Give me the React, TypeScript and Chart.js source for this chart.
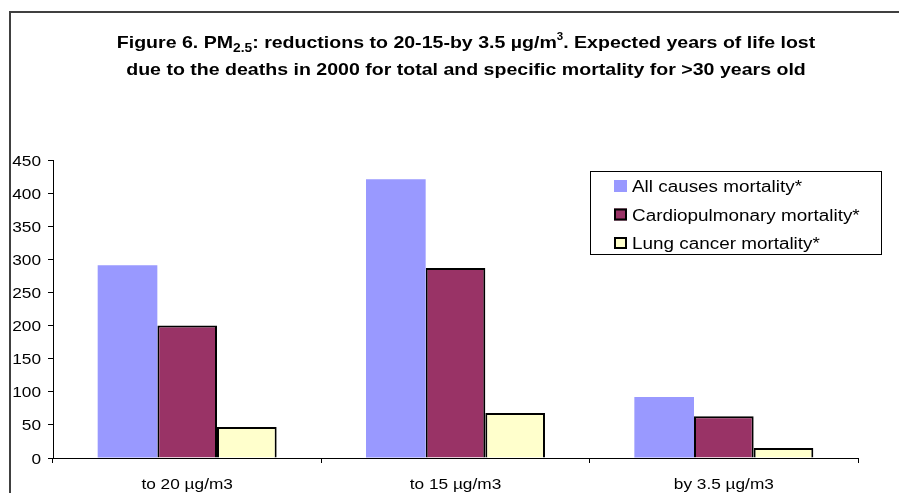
import React, { useEffect, useRef } from "react";
import { Chart, registerables } from "chart.js";

Chart.register(...registerables);

const categories = ["to 20 µg/m3", "to 15 µg/m3", "by 3.5 µg/m3"];
const allCausesLabel = "All causes mortality*";
const cardioLabel = "Cardiopulmonary mortality*";
const lungLabel = "Lung cancer mortality*";
const allCauses = [291, 421, 92];
const cardio = [200, 287, 63];
const lung = [47, 68, 15];
const yMax = 450;
const yStep = 50;

const FONT = "'Liberation Sans', Arial, sans-serif";

function drawStretched(
  ctx: CanvasRenderingContext2D,
  text: string,
  x: number,
  y: number,
  align: "left" | "center" | "right",
  font: string,
  sx: number,
  color = "#000"
) {
  ctx.save();
  ctx.font = font;
  const w = ctx.measureText(text).width * sx;
  let left = x;
  if (align === "center") left = x - w / 2;
  if (align === "right") left = x - w;
  ctx.translate(left, y);
  ctx.scale(sx, 1);
  ctx.textAlign = "left";
  ctx.textBaseline = "alphabetic";
  ctx.fillStyle = color;
  ctx.fillText(text, 0, 0);
  ctx.restore();
  return w;
}

type Run = { t: string; size: number; dy: number };

function drawRuns(ctx: CanvasRenderingContext2D, runs: Run[], cx: number, baseY: number, sx: number) {
  ctx.save();
  let total = 0;
  const widths = runs.map((r) => {
    ctx.font = `bold ${r.size}px ${FONT}`;
    const w = ctx.measureText(r.t).width * sx;
    total += w;
    return w;
  });
  let x = cx - total / 2;
  runs.forEach((r, i) => {
    drawStretched(ctx, r.t, x, baseY + r.dy, "left", `bold ${r.size}px ${FONT}`, sx);
    x += widths[i];
  });
  ctx.restore();
}

const customPlugin = {
  id: "custom",
  beforeDraw(chart: any) {
    const ctx = chart.ctx;
    ctx.save();
    ctx.fillStyle = "#fff";
    ctx.fillRect(0, 0, chart.width, chart.height);
    ctx.restore();
  },
  afterDraw(chart: any) {
    const ctx: CanvasRenderingContext2D = chart.ctx;
    // frame
    ctx.save();
    ctx.strokeStyle = "#404040";
    ctx.lineWidth = 2;
    ctx.strokeRect(10, 12, 3000, 3000);
    ctx.restore();

    // title
    const tsx = 1.15;
    drawRuns(
      ctx,
      [
        { t: "Figure 6. PM", size: 17, dy: 0 },
        { t: "2.5", size: 12, dy: 4 },
        { t: ": reductions to 20-15-by 3.5 µg/m", size: 17, dy: 0 },
        { t: "3", size: 10, dy: -8 },
        { t: ". Expected years of life lost", size: 17, dy: 0 },
      ],
      466,
      48,
      tsx
    );
    drawRuns(
      ctx,
      [{ t: "due to the deaths in 2000 for total and specific mortality for >30 years old", size: 17, dy: 0 }],
      466,
      75,
      tsx
    );

    // y tick labels
    const ys = chart.scales.y;
    const tickFont = `15px ${FONT}`;
    ys.ticks.forEach((t: any) => {
      const py = ys.getPixelForValue(t.value);
      drawStretched(ctx, String(t.value), 41, py + 5.5, "right", tickFont, 1.15);
    });
    // x tick labels
    const xs = chart.scales.x;
    categories.forEach((c, i) => {
      const px = xs.getPixelForValue(i);
      drawStretched(ctx, c, px, 489, "center", tickFont, 1.15);
    });

    // legend
    ctx.save();
    ctx.fillStyle = "#fff";
    ctx.fillRect(590, 171, 291, 83);
    ctx.strokeStyle = "#000";
    ctx.lineWidth = 1;
    ctx.strokeRect(590.5, 171.5, 291, 83);
    const items = chart.data.datasets.map((d: any) => d);
    const rowBase = [192, 220.5, 249];
    items.forEach((d: any, i: number) => {
      const top = rowBase[i] - 12;
      ctx.fillStyle = d.backgroundColor;
      ctx.fillRect(614, top, 13, 12);
      if (d.borderWidth > 0) {
        ctx.strokeStyle = "#000";
        ctx.lineWidth = 2;
        ctx.strokeRect(615, top + 1, 11, 10);
      }
      drawStretched(ctx, d.label, 632, rowBase[i], "left", `16px ${FONT}`, 1.18);
    });
    ctx.restore();
  },
};

export default function App() {
  const ref = useRef<HTMLCanvasElement>(null);
  useEffect(() => {
    if (!ref.current) return;
    const chart = new Chart(ref.current, {
      type: "bar",
      data: {
        labels: categories,
        datasets: [
          {
            label: allCausesLabel,
            data: allCauses,
            backgroundColor: "#9999FF",
            borderWidth: 0,
            categoryPercentage: 0.667,
            barPercentage: 1,
          },
          {
            label: cardioLabel,
            data: cardio,
            backgroundColor: "#993366",
            borderColor: "#000",
            borderWidth: 2,
            categoryPercentage: 0.667,
            barPercentage: 1,
          },
          {
            label: lungLabel,
            data: lung,
            backgroundColor: "#FFFFCC",
            borderColor: "#000",
            borderWidth: 2,
            categoryPercentage: 0.667,
            barPercentage: 1,
          },
        ],
      },
      options: {
        responsive: false,
        animation: false,
        devicePixelRatio: 1,
        layout: { padding: { top: 160, right: 41, bottom: 0, left: 0 } },
        plugins: { legend: { display: false }, title: { display: false }, tooltip: { enabled: false } },
        scales: {
          x: {
            grid: { display: true, drawOnChartArea: false, drawTicks: true, tickLength: 5, color: "#000", offset: true },
            border: { display: true, color: "#000", width: 1 },
            ticks: { display: false },
            afterFit: (s: any) => {
              s.height = 35;
            },
          },
          y: {
            min: 0,
            max: yMax,
            ticks: { display: false, stepSize: yStep },
            grid: { display: true, drawOnChartArea: false, drawTicks: true, tickLength: 5, color: "#000" },
            border: { display: true, color: "#000", width: 1 },
            afterFit: (s: any) => {
              s.width = 53;
            },
          },
        },
      },
      plugins: [customPlugin],
    });
    return () => chart.destroy();
  }, []);
  return (
    <div style={{ position: "fixed", left: 0, top: 0, width: 899, height: 493, background: "#fff" }}>
      <canvas ref={ref} width={899} height={493} style={{ display: "block" }} />
    </div>
  );
}
